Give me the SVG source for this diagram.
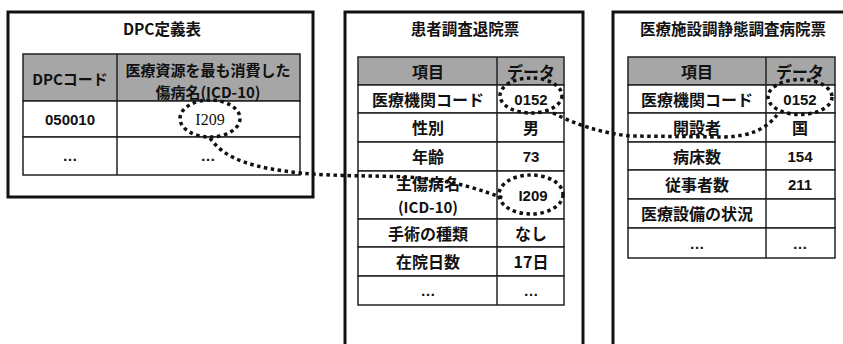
<svg xmlns="http://www.w3.org/2000/svg" width="843" height="344" viewBox="0 0 843 344">
<style>
.panel{fill:none;stroke:#111;stroke-width:3}
.cell{fill:#fff;stroke:#222;stroke-width:1.5}
.hdr{fill:#a6a6a6;stroke:#222;stroke-width:1.5}
.t{font-family:"Noto Sans CJK JP","Noto Sans",sans-serif;font-weight:bold;font-size:16px;fill:#111;text-anchor:middle;dominant-baseline:central}
.tl{font-size:15px}
.ti{font-size:15.5px}
.n{font-family:"Liberation Sans",Arial,sans-serif;font-weight:bold;font-size:15px;fill:#111;text-anchor:middle;dominant-baseline:central}
.s{font-family:"Liberation Serif","Times New Roman",serif;font-size:16px;fill:#111;text-anchor:middle;dominant-baseline:central}
.dot{fill:none;stroke:#111;stroke-width:3.5;stroke-dasharray:3.5 3.5}
</style>
<rect width="843" height="344" fill="#fff"/>

<g id="dpc-table">
<rect class="panel" x="8" y="12" width="305" height="185"/>
<text class="t ti" x="162" y="28">DPC定義表</text>
<rect class="hdr" x="23" y="54" width="277" height="47"/>
<rect class="cell" x="23" y="101" width="277" height="36"/>
<rect class="cell" x="23" y="137" width="277" height="38"/>
<line x1="117" y1="54" x2="117" y2="175" stroke="#222" stroke-width="1.5"/>
<text class="t tl" x="70" y="78">DPCコード</text>
<text class="t tl" x="208" y="69">医療資源を最も消費した</text>
<text class="t tl" x="208" y="91">傷病名(ICD-10)</text>
<text class="n" x="70" y="119">050010</text>
<text class="s" x="210" y="119">I209</text>
<text class="n" x="70" y="155">…</text>
<text class="n" x="208" y="155">…</text>
</g>

<g id="patient-discharge">
<path class="panel" d="M345,346 V12 H583 V346"/>
<text class="t ti" x="465" y="28">患者調査退院票</text>
<rect class="hdr" x="358" y="57" width="206" height="28"/>
<rect class="cell" x="358" y="85" width="206" height="28"/>
<rect class="cell" x="358" y="113" width="206" height="29"/>
<rect class="cell" x="358" y="142" width="206" height="29"/>
<rect class="cell" x="358" y="171" width="206" height="48"/>
<rect class="cell" x="358" y="219" width="206" height="28"/>
<rect class="cell" x="358" y="247" width="206" height="29"/>
<rect class="cell" x="358" y="276" width="206" height="29"/>
<line x1="497" y1="57" x2="497" y2="305" stroke="#222" stroke-width="1.5"/>
<text class="t" x="428" y="71">項目</text>
<text class="t" x="531" y="71">データ</text>
<text class="t" x="428" y="99">医療機関コード</text>
<text class="n" x="531" y="99">0152</text>
<text class="t" x="428" y="127">性別</text>
<text class="t" x="531" y="127">男</text>
<text class="t" x="428" y="156">年齢</text>
<text class="n" x="531" y="156">73</text>
<text class="t" x="428" y="183">主傷病名</text>
<text class="t tl" x="428" y="206">(ICD-10)</text>
<text class="n" x="533" y="195">I209</text>
<text class="t" x="428" y="233">手術の種類</text>
<text class="t" x="531" y="233">なし</text>
<text class="t" x="428" y="261">在院日数</text>
<text class="t" x="531" y="261">17日</text>
<text class="n" x="428" y="290">…</text>
<text class="n" x="531" y="290">…</text>
</g>

<g id="hospital-survey">
<path class="panel" d="M613,346 V12 H846"/>
<text class="t ti" x="733" y="28">医療施設調静態調査病院票</text>
<rect class="hdr" x="628" y="57" width="207" height="28"/>
<rect class="cell" x="628" y="85" width="207" height="28"/>
<rect class="cell" x="628" y="113" width="207" height="29"/>
<rect class="cell" x="628" y="142" width="207" height="28"/>
<rect class="cell" x="628" y="170" width="207" height="29"/>
<rect class="cell" x="628" y="199" width="207" height="29"/>
<rect class="cell" x="628" y="228" width="207" height="30"/>
<line x1="766" y1="57" x2="766" y2="258" stroke="#222" stroke-width="1.5"/>
<text class="t" x="697" y="71">項目</text>
<text class="t" x="800" y="71">データ</text>
<text class="t" x="697" y="99">医療機関コード</text>
<text class="n" x="800" y="99">0152</text>
<text class="t" x="697" y="127">開設者</text>
<text class="t" x="800" y="127">国</text>
<text class="t" x="697" y="156">病床数</text>
<text class="n" x="800" y="156">154</text>
<text class="t" x="697" y="184">従事者数</text>
<text class="n" x="800" y="184">211</text>
<text class="t" x="697" y="213">医療設備の状況</text>
<text class="n" x="697" y="243">…</text>
<text class="n" x="800" y="243">…</text>
</g>

<g id="connectors">
<ellipse class="dot" cx="210" cy="118.5" rx="30" ry="18.5"/>
<ellipse class="dot" cx="531" cy="95.5" rx="31" ry="17.5"/>
<ellipse class="dot" cx="531" cy="194.5" rx="32" ry="19.5"/>
<ellipse class="dot" cx="800" cy="97" rx="32" ry="17.5"/>
<path class="dot" d="M210,138 C225,160 255,168 300,173 C340,177 390,175 420,178 C460,182 480,190 503,198"/>
<path class="dot" d="M553,113 C575,124 600,133 630,136 L725,137 C750,136 765,130 777,115"/>
</g>
</svg>
